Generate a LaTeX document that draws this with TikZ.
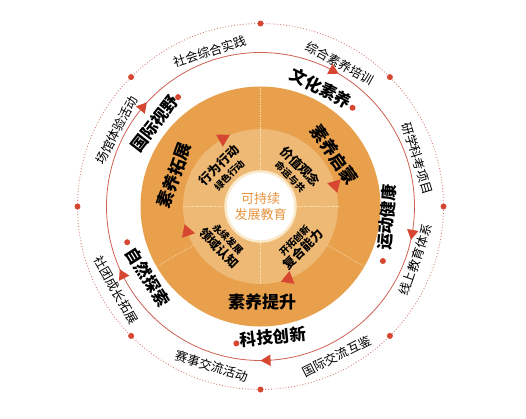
\documentclass[tikz,border=0pt]{standalone}
\usepackage{fontspec}
\setmainfont{Noto Sans CJK SC}
\usetikzlibrary{shapes.geometric}

\definecolor{ringorange}{RGB}{232,160,76}
\definecolor{innerorange}{RGB}{238,185,116}
\definecolor{cream}{RGB}{248,224,180}
\definecolor{accent}{RGB}{214,70,48}
\definecolor{linered}{RGB}{206,96,82}
\definecolor{textorange}{RGB}{232,148,62}

\tikzset{
  tri/.style={isosceles triangle, isosceles triangle apex angle=60, fill=accent,
    inner sep=0pt, minimum size=10pt},
  reddot/.style={circle, fill=accent, inner sep=0pt, minimum size=6pt},
  divider/.style={draw=cream, densely dotted, line width=0.7pt},
  labelmid/.style={font=\bfseries\fontsize{16.5}{18}\selectfont, inner sep=0pt},
  labelout/.style={font=\fontsize{12.5}{14}\selectfont, inner sep=0pt},
  phase/.style={font=\bfseries\fontsize{17}{19}\selectfont, inner sep=0pt},
  quad/.style={align=center, inner sep=0pt, font=\fontsize{12.5}{14.5}\selectfont},
}
\newcommand\quadbig{\bfseries\fontsize{12.5}{14.5}\selectfont}
\newcommand\quadsmall{\bfseries\fontsize{9.5}{11}\selectfont}

\begin{document}
\begin{tikzpicture}[x=1pt,y=1pt]
\useasboundingbox (-260.5pt,-211.5pt) rectangle (265.5pt,206.5pt);

% outer dotted ring
\draw[linered!80, dotted, line width=0.9pt] (0,0) circle (183pt);
\foreach \a in {0,45,...,315}
  \node[reddot] at (\a:183pt) {};
\draw[linered, line width=0.8pt] (0,0) circle (154pt);
\foreach \a in {140,62,-10,-87.5,206.5}
  \node[tri, rotate=\a-90] at (\a:154pt) {};

% orange disk
\fill[ringorange] (0,0) circle (120pt);
\fill[innerorange] (0,0) circle (77.5pt);
\draw[divider] (90:77.5pt) -- (90:120pt);
\draw[divider] (210:77.5pt) -- (210:120pt);
\draw[divider] (330:77.5pt) -- (330:120pt);
\draw[divider] (-77.5pt,0) -- (77.5pt,0);
\draw[divider] (0,-77.5pt) -- (0,77.5pt);
\foreach \a in {119,16,-69,199}
  \node[tri, minimum size=12pt, rotate=\a-90] at (\a:77.5pt) {};

\node[circle, fill=white, draw=cream!70, line width=2.5pt, minimum size=70pt,
  align=center, text=textorange, font=\fontsize{13}{16}\selectfont] (core)
  {可持续\\发展教育};

% inner quadrants
\node[quad, rotate=45] (act) at (135:52pt) {{\quadbig 行为行动}\\[-1pt]{\quadsmall 绿色行动}};
\node[quad, rotate=-45] (value) at (45:50pt) {{\quadbig 价值观念}\\[-1pt]{\quadsmall 命运与共}};
\node[quad, rotate=45] (ability) at (-45:55pt) {{\quadsmall 开拓创新}\\[-1pt]{\quadbig 复合能力}};
\node[quad, rotate=-45] (domain) at (225:53pt) {{\quadsmall 永续发展}\\[-1pt]{\quadbig 领域认知}};

% phases
\node[phase, rotate=70] (expand) at (160:92pt) {素养拓展};
\node[phase, rotate=-55] (enlight) at (35:90pt) {素养启蒙};
\node[phase] (raise) at (-89:96pt) {素养提升};

% middle ring
\node[labelmid, rotate=52] (intl) at (142:134pt) {国际视野};
\node[reddot] at (127:137pt) {};
\node[labelmid, rotate=-27] (culture) at (63:133pt) {文化素养};
\node[reddot] at (47:135pt) {};
\node[labelmid, rotate=85] (sport) at (-5:127pt) {运动健康};
\node[reddot] at (-24:134pt) {};
\node[labelmid, rotate=5.5] (tech) at (-84.5:131pt) {科技创新};
\node[reddot] at (-100:139pt) {};
\node[labelmid, rotate=-58] (nature) at (212:133pt) {自然探索};
\node[reddot] at (195:138pt) {};

% outer ring
\node[labelout, rotate=18] (social) at (108:163pt) {社会综合实践};
\node[labelout, rotate=-29] (train) at (61:164pt) {综合素养培训};
\node[labelout, rotate=-73] (study) at (17:164pt) {研学科考项目};
\node[labelout, rotate=71] (online) at (-19:164pt) {线上教育体系};
\node[labelout, rotate=27] (exchange) at (-63:168pt) {国际交流互鉴};
\node[labelout, rotate=-17] (contest) at (-107:167pt) {赛事交流活动};
\node[labelout, rotate=-60] (club) at (210:167pt) {社团成长拓展};
\node[labelout, rotate=62] (venue) at (152:163pt) {场馆体验活动};
\end{tikzpicture}
\end{document}
